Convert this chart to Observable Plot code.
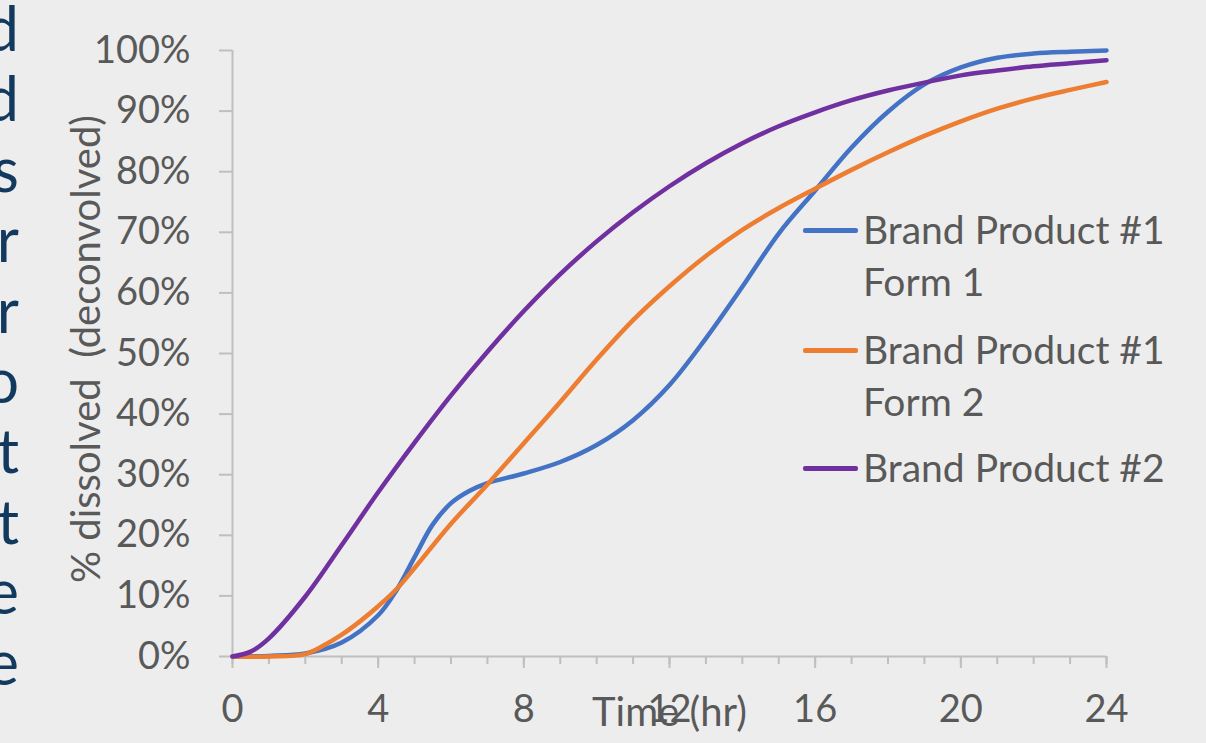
<!DOCTYPE html>
<html>
<head>
<meta charset="utf-8">
<script src="https://cdn.jsdelivr.net/npm/d3@7"></script>
<script src="https://cdn.jsdelivr.net/npm/@observablehq/plot@0.6"></script>
<style>
  html, body { margin: 0; padding: 0; background: #ededed; overflow: hidden; }
  #wrap { position: relative; width: 1206px; height: 743px; font-family: Lato, "Open Sans", sans-serif; }
  #side { position: absolute; left: -200px; width: 219px; top: 0; height: 743px; overflow: hidden;
          font-size: 61px; color: #12395e; }
  #side span { position: absolute; right: 0; line-height: 1; }
  #legend { position: absolute; left: 803px; top: 0; color: #595959; font-size: 39px; }
  #legend .item { position: absolute; left: 0; white-space: nowrap; }
  #legend .swatch { position: absolute; left: 0; width: 55px; height: 4.5px; border-radius: 2px; }
  #legend .label { position: absolute; left: 60px; line-height: 52px; }
</style>
</head>
<body>
<div id="wrap">
  <div id="side"></div>
  <div id="chart"></div>
  <div id="legend"></div>
</div>
<script>
// Dissolution profiles (% dissolved, deconvolved) over time in hours
const seriesNames = ["Brand Product #1 Form 1", "Brand Product #1 Form 2", "Brand Product #2"];
const seriesColors = ["#4472c4", "#ed7d31", "#7030a0"];

const form1Hours = [0, 1, 2, 3, 4, 4.5, 5, 5.5, 6, 6.5, 7, 8, 9, 10, 11, 12, 13, 14, 15, 16, 17, 18, 19, 20, 21, 22, 23, 24];
const form1Pct   = [0, 0.1, 0.5, 2.3, 6.8, 10.9, 16.4, 21.8, 25.3, 27.3, 28.6, 30.2, 32.1, 34.9, 39.0, 44.8, 52.5, 61.0, 69.8, 76.9, 84.0, 89.9, 94.4, 97.2, 98.8, 99.5, 99.8, 100];

const form2Hours = [0, 1, 2, 2.5, 3, 3.5, 4, 4.5, 5, 6, 7, 8, 9, 10, 11, 12, 13, 14, 15, 16, 17, 18, 19, 20, 21, 22, 23, 24];
const form2Pct   = [0, 0, 0.4, 1.8, 3.6, 5.8, 8.3, 11.1, 14.6, 21.9, 28.4, 35.2, 42.0, 49.0, 55.5, 61.1, 66.1, 70.4, 74.0, 77.2, 80.3, 83.2, 85.9, 88.3, 90.4, 92.1, 93.5, 94.8];

const product2Hours = [0, 0.5, 1, 2, 3, 4, 5, 6, 7, 8, 9, 10, 11, 12, 13, 14, 15, 16, 17, 18, 19, 20, 21, 22, 23, 24];
const product2Pct   = [0, 0.8, 3.0, 9.9, 18.4, 27.1, 35.3, 43.1, 50.3, 57.0, 63.1, 68.5, 73.3, 77.6, 81.4, 84.7, 87.5, 89.8, 91.8, 93.4, 94.7, 95.9, 96.7, 97.4, 97.9, 98.4];

const yTicks = [0, 10, 20, 30, 40, 50, 60, 70, 80, 90, 100];
const xMajorTicks = [0, 4, 8, 12, 16, 20, 24];
const xMinorTicks = d3.range(0, 25, 1);

const xLabel = "Time (hr)";
const yLabel = "% dissolved \u00a0(deconvolved)";
const sideLetters = ["d", "d", "s", "r", "r", "o", "t", "t", "e", "e"];

const hoursBySeries = [form1Hours, form2Hours, product2Hours];
const pctBySeries = [form1Pct, form2Pct, product2Pct];
const rows = seriesNames.flatMap((name, i) =>
  hoursBySeries[i].map((t, j) => ({series: name, t, v: pctBySeries[i][j] / 100}))
);

const axisGray = "#bfbfbf";
const textGray = "#595959";

const chart = Plot.plot({
  width: 1206,
  height: 743,
  marginLeft: 232,
  marginRight: 100,
  marginTop: 50,
  marginBottom: 87,
  style: {background: "transparent", fontFamily: "Lato, 'Open Sans', sans-serif", fontSize: "38px", color: textGray, overflow: "visible"},
  x: {domain: [0, 24]},
  y: {domain: [0, 1]},
  color: {domain: seriesNames, range: seriesColors},
  marks: [
    Plot.axisY(yTicks.map(d => d / 100), {
      tickSize: 13, tickPadding: 29, tickFormat: d3.format(".0%"),
      stroke: axisGray, strokeWidth: 2, fill: textGray, label: null
    }),
    Plot.axisX(xMinorTicks, {tickSize: 8, tickFormat: () => "", stroke: axisGray, strokeWidth: 2, label: null}),
    Plot.axisX(xMajorTicks, {tickSize: 12, tickPadding: 27, stroke: axisGray, strokeWidth: 2, fill: textGray, label: null}),
    Plot.ruleX([0], {stroke: axisGray, strokeWidth: 2}),
    Plot.ruleY([0], {stroke: axisGray, strokeWidth: 2}),
    Plot.line(rows, {x: "t", y: "v", z: "series", stroke: "series", strokeWidth: 4.5, curve: "catmull-rom"}),
    Plot.text([xLabel], {frameAnchor: "bottom", dy: 57, lineAnchor: "middle", fill: textGray, fontSize: 40}),
    Plot.text([yLabel], {frameAnchor: "left", textAnchor: "middle", dx: -145, dy: -4.5, rotate: -90, lineAnchor: "middle", fill: textGray, fontSize: 40})
  ]
});
document.getElementById("chart").appendChild(chart);

// Legend: swatch line plus wrapped series name
const legend = d3.select("#legend");
const legendTops = [230, 350, 468];
seriesNames.forEach((name, i) => {
  const item = legend.append("div").attr("class", "item").style("top", legendTops[i] + "px");
  item.append("div").attr("class", "swatch").style("background", seriesColors[i]).style("top", "-2px");
  const parts = name.split(" Form ");
  item.append("div").attr("class", "label").style("top", "-27px")
    .html(parts.length > 1 ? parts[0] + "<br>Form " + parts[1] : name);
});

// Slide text running off the left edge, one letter per line
const side = d3.select("#side");
const lineStep = 70.4;
sideLetters.forEach((ch, i) => {
  side.append("span").style("top", (45 + i * lineStep - 48) + "px").text(ch);
});
</script>
</body>
</html>
